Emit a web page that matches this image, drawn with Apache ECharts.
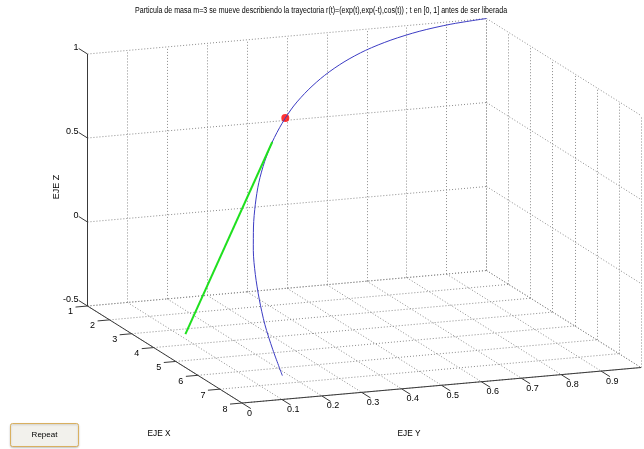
<!DOCTYPE html>
<html>
<head>
<meta charset="utf-8">
<script src="https://cdn.jsdelivr.net/npm/echarts@6/dist/echarts.min.js"></script>
<style>
  html, body { margin: 0; padding: 0; background: #fff; }
  #chart { width: 644px; height: 449px; }
</style>
</head>
<body>
<div id="chart"></div>
<script>
// trayectoria r(t)=(exp(t),exp(-t),cos(t)), t = 0, 0.1, ... 2
var curveX = [1.000, 1.105, 1.221, 1.350, 1.492, 1.649, 1.822, 2.014, 2.226, 2.460, 2.718,
              3.004, 3.320, 3.669, 4.055, 4.482, 4.953, 5.474, 6.050, 6.686, 7.389];
var curveY = [1.000, 0.905, 0.819, 0.741, 0.670, 0.607, 0.549, 0.497, 0.449, 0.407, 0.368,
              0.333, 0.301, 0.273, 0.247, 0.223, 0.202, 0.183, 0.165, 0.150, 0.135];
var curveZ = [1.000, 0.995, 0.980, 0.955, 0.921, 0.878, 0.825, 0.765, 0.697, 0.622, 0.540,
              0.454, 0.362, 0.268, 0.170, 0.071, -0.029, -0.129, -0.227, -0.323, -0.416];
// recta tangente (particula liberada)
var tangX = [2.718, 5.436];
var tangY = [0.368, 0.000];
var tangZ = [0.540, -0.301];
// particula
var dotXYZ = [2.387, 0.419, 0.645];

// ticks
var xTicks = [1, 2, 3, 4, 5, 6, 7, 8];
var yTicks = [0, 0.1, 0.2, 0.3, 0.4, 0.5, 0.6, 0.7, 0.8, 0.9];
var yGrid = [0, 0.1, 0.2, 0.3, 0.4, 0.5, 0.6, 0.7, 0.8, 0.9, 1];
var zTicks = [-0.5, 0, 0.5, 1];

var titulo = 'Particula de masa m=3 se mueve describiendo la trayectoria r(t)=(exp(t),exp(-t),cos(t)) ; t en [0, 1] antes de ser liberada';

// proyeccion ortografica (vista fija)
var O = [87.5, 306];
var ex = [22.07, 13.86];
var ey = [399, -35.5];
var ez = [0, -168];
function proj(x, y, z) {
    return [O[0] + (x - 1) * ex[0] + y * ey[0] + (z + 0.5) * ez[0],
            O[1] + (x - 1) * ex[1] + y * ey[1] + (z + 0.5) * ez[1]];
}
function seg(a, b) {
    return { coords: [proj(a[0], a[1], a[2]), proj(b[0], b[1], b[2])] };
}

// rejilla punteada
var gridSegs = [];
zTicks.forEach(function (z) {
    gridSegs.push(seg([1, 0, z], [1, 1, z]));
    gridSegs.push(seg([1, 1, z], [8, 1, z]));
});
yGrid.forEach(function (y) {
    gridSegs.push(seg([1, y, -0.5], [1, y, 1]));
    gridSegs.push(seg([1, y, -0.5], [8, y, -0.5]));
});
xTicks.forEach(function (x) {
    gridSegs.push(seg([x, 1, -0.5], [x, 1, 1]));
    gridSegs.push(seg([x, 0, -0.5], [x, 1, -0.5]));
});

// ejes y marcas
var axisSegs = [
    seg([1, 0, -0.5], [1, 0, 1]),
    seg([1, 0, -0.5], [8, 0, -0.5]),
    seg([8, 0, -0.5], [8, 1, -0.5])
];
zTicks.forEach(function (z) { axisSegs.push(seg([1, 0, z], [0.6, 0, z])); });
xTicks.forEach(function (x) { axisSegs.push(seg([x, 0, -0.5], [x, -0.03, -0.5])); });
yTicks.forEach(function (y) { axisSegs.push(seg([8, y, -0.5], [8.4, y, -0.5])); });

// etiquetas
var labels = [];
zTicks.forEach(function (z) {
    labels.push({ value: proj(1, 0, z), text: String(z), align: 'right', dx: -9, dy: -6 });
});
xTicks.forEach(function (x) {
    labels.push({ value: proj(x, 0, -0.5), text: String(x), align: 'center', dx: -17, dy: 6 });
});
yTicks.forEach(function (y) {
    labels.push({ value: proj(8, y, -0.5), text: String(y), align: 'left', dx: 5, dy: 10 });
});

var curveData = curveX.map(function (x, i) { return proj(x, curveY[i], curveZ[i]); });
var tangData = tangX.map(function (x, i) { return proj(x, tangY[i], tangZ[i]); });

var font = '"Liberation Sans", Arial, sans-serif';
var myChart = echarts.init(document.getElementById('chart'));
var option = {
    animation: false,
    backgroundColor: '#ffffff',
    grid: { left: 0, right: 0, top: 0, bottom: 0 },
    xAxis: { type: 'value', min: 0, max: 644, show: false },
    yAxis: { type: 'value', min: 0, max: 449, inverse: true, show: false },
    graphic: [
        { type: 'text', x: 321, y: 11, scaleX: 0.83,
          style: { text: titulo, font: '8.5px ' + font, fill: '#000', align: 'center', verticalAlign: 'middle' } },
        { type: 'text', x: 57, y: 187, rotation: Math.PI / 2,
          style: { text: 'EJE Z', font: '9px ' + font, fill: '#000', align: 'center', verticalAlign: 'middle' } },
        { type: 'text', x: 159, y: 434, scaleX: 0.92,
          style: { text: 'EJE X', font: '9px ' + font, fill: '#000', align: 'center', verticalAlign: 'middle' } },
        { type: 'text', x: 409, y: 434, scaleX: 0.92,
          style: { text: 'EJE Y', font: '9px ' + font, fill: '#000', align: 'center', verticalAlign: 'middle' } },
        { type: 'rect', shape: { x: 10.5, y: 423.5, width: 68, height: 23, r: 2 },
          style: { fill: '#f2f1ec', stroke: '#d9b060', lineWidth: 1,
                   shadowColor: 'rgba(0,0,0,0.2)', shadowBlur: 2, shadowOffsetY: 1 } },
        { type: 'text', x: 44.5, y: 435,
          style: { text: 'Repeat', font: '8px ' + font, fill: '#000', align: 'center', verticalAlign: 'middle' } }
    ],
    series: [
        {
            type: 'lines', coordinateSystem: 'cartesian2d', silent: true,
            data: gridSegs,
            lineStyle: { color: '#8c8c8c', width: 1, type: [1, 2], opacity: 1 }
        },
        {
            type: 'lines', coordinateSystem: 'cartesian2d', silent: true,
            data: axisSegs,
            lineStyle: { color: '#3a3a3a', width: 1, opacity: 1 }
        },
        {
            type: 'line', data: curveData, smooth: 0.3, symbol: 'none',
            lineStyle: { color: '#3c3cc4', width: 1 }
        },
        {
            type: 'line', data: tangData, symbol: 'none',
            lineStyle: { color: '#1fe01f', width: 2 }
        },
        {
            type: 'scatter', data: [proj(dotXYZ[0], dotXYZ[1], dotXYZ[2])],
            symbolSize: 8, itemStyle: { color: '#ff0000' }
        },
        {
            type: 'custom', data: labels, silent: true,
            renderItem: function (params, api) {
                var it = labels[params.dataIndex];
                var p = api.coord([api.value(0), api.value(1)]);
                return {
                    type: 'text', x: p[0] + it.dx, y: p[1] + it.dy,
                    style: { text: it.text, font: '9px ' + font, fill: '#000',
                             align: it.align, verticalAlign: 'middle' }
                };
            }
        }
    ]
};
myChart.setOption(option);
</script>
</body>
</html>
